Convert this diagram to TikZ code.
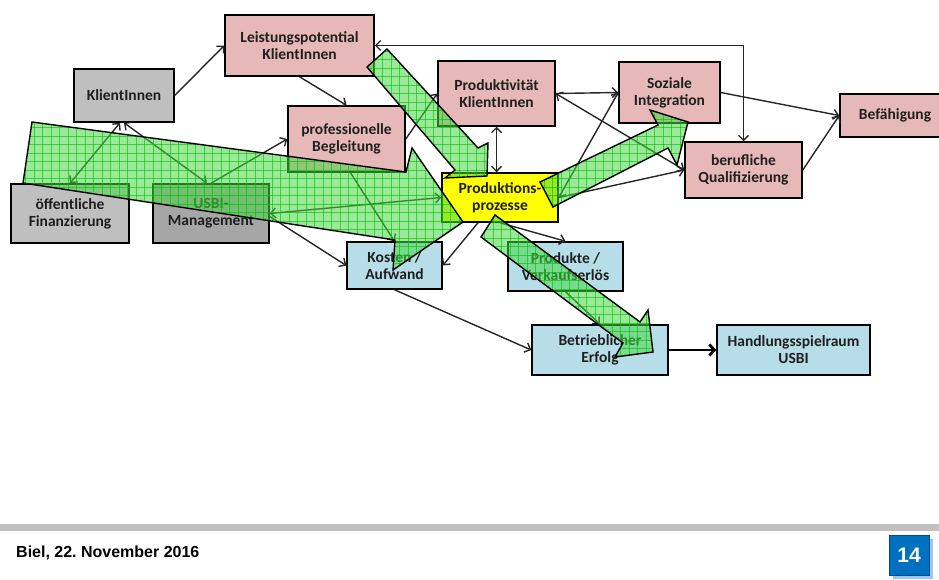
\documentclass[tikz,border=0pt]{standalone}
\usepackage{fontspec}
\setmainfont{Carlito}
\newfontfamily\arialfont{Liberation Sans}
\usetikzlibrary{arrows.meta,calc}
\frenchspacing

\definecolor{pinkbox}{RGB}{230,185,184}
\definecolor{graybox}{RGB}{191,191,191}
\definecolor{darkgraybox}{RGB}{166,166,166}
\definecolor{bluebox}{RGB}{183,222,232}
\definecolor{yellowbox}{RGB}{255,255,0}
\definecolor{arrowgreen}{RGB}{70,215,70}
\definecolor{gridgreen}{RGB}{0,190,0}
\definecolor{footgray}{RGB}{192,192,192}
\definecolor{pageblue}{RGB}{0,112,192}
\definecolor{pageshadow}{RGB}{165,195,240}

\newcommand\greenarrow[1]{%
  \fill[arrowgreen, fill opacity=0.55] #1;
  \begin{scope}
    \clip #1;
    \foreach \gx in {0,8.5,...,939} {\draw[gridgreen, line width=0.45pt, opacity=0.6] (\gx,0) -- (\gx,579);}
    \foreach \gy in {0,8.5,...,579} {\draw[gridgreen, line width=0.45pt, opacity=0.6] (0,\gy) -- (939,\gy);}
  \end{scope}
  \draw[black, line width=1.4pt, line join=miter] #1;
}

\begin{document}
\begin{tikzpicture}[x=1pt,y=-1pt,
  box/.style={draw=black, line width=1.5pt, align=center, inner sep=0pt,
    font=\fontsize{15.5}{17}\selectfont\bfseries, text=black!88},
  conn/.style={line width=1.4pt, draw=black!85, -{Straight Barb[length=5pt,width=10pt]}},
  dconn/.style={line width=1.4pt, draw=black!85, {Straight Barb[length=5pt,width=10pt]}-{Straight Barb[length=5pt,width=10pt]}}
]
\useasboundingbox (0,0) rectangle (939,579);
\clip (0,0) rectangle (939,579);

% boxes
\node[box, fill=pinkbox, minimum width=149, minimum height=61] (LP) at (299.5,45.5) {Leistungspotential\\KlientInnen};
\node[box, fill=graybox, minimum width=100, minimum height=53] (KL) at (124,95.5) {KlientInnen};
\node[box, fill=pinkbox, minimum width=117, minimum height=66] (PB) at (346.5,139) {professionelle\\Begleitung};
\node[box, fill=graybox, minimum width=118, minimum height=59] (OF) at (70,213.5) {öffentliche\\Finanzierung};
\node[box, fill=darkgraybox, minimum width=116, minimum height=59] (UM) at (211,213.5) {USBI-\\Management};
\node[box, fill=bluebox, minimum width=95, minimum height=47] (KA) at (394.5,265.5) {Kosten /\\Aufwand};
\node[box, fill=pinkbox, minimum width=117, minimum height=65] (PK) at (496.5,93.5) {Produktivität\\KlientInnen};
\node[box, fill=pinkbox, minimum width=101, minimum height=61] (SI) at (669.5,92.5) {Soziale\\Integration};
\node[box, fill=pinkbox, minimum width=117, minimum height=56] (BQ) at (743.5,170) {berufliche\\Qualifizierung};
\node[box, fill=pinkbox, minimum width=110, minimum height=43] (BF) at (895,115.5) {Befähigung};
\node[box, fill=yellowbox, minimum width=116, minimum height=49] (PP) at (500,197.5) {Produktions-\\prozesse};
\node[box, fill=bluebox, minimum width=115, minimum height=49] (PV) at (565.5,266.5) {Produkte /\\Verkaufserlös};
\node[box, fill=bluebox, minimum width=136, minimum height=50] (BE) at (600,350) {Betrieblicher\\Erfolg};
\node[box, fill=bluebox, minimum width=153, minimum height=50] (HU) at (793.5,350) {Handlungsspielraum\\USBI};

% connectors
\draw[conn] (KL.east) -- (LP.west);
\draw[conn] (LP.south) -- (PB.north);
\draw[dconn] ([xshift=-4pt]KL.south) -- (OF.north);
\draw[dconn] (KL.south) -- ([xshift=-4pt]UM.north);
\draw[conn] (UM.north) -- (PB.west);
\draw[dconn] (UM.east) -- (PP.west);
\draw[conn] ([yshift=-3pt]UM.east) -- (KA.west);
\draw[conn] ([xshift=4pt]PB.south) -- (KA.north);
\draw[conn] (PB.east) -- (PK.west);
\draw[dconn] (BQ.north) |- (LP.east);
\draw[dconn] (PK.south) -- (PK.south |- PP.north);
\draw[conn] (PK.east) -- (SI.west);
\draw[dconn] (PK.east) -- (BQ.west);
\draw[dconn] (PP.east) -- (SI.west);
\draw[conn] (PP.east) -- (BQ.west);
\draw[conn] (SI.east) -- (BF.west);
\draw[conn] (BQ.east) -- (BF.west);
\draw[conn] ([xshift=-22pt]PP.south) -- (KA.east);
\draw[conn] (PP.south) -- (PV.north);
\draw[conn] (PV.south) -- (BE.north);
\draw[conn] (KA.south) -- (BE.west);
\draw[line width=2.8pt, draw=black, -{Straight Barb[length=5pt,width=11pt]}] (BE.east) -- (HU.west);

% big green arrows
\greenarrow{(32,122) -- (406,172) -- (412,148) -- (463,222) -- (393,270) -- (395,240) -- (23,183) -- cycle}
\greenarrow{(387,49) -- (478,148) -- (488,143) -- (487,176) -- (445,178) -- (455,170) -- (367,67) -- cycle}
\greenarrow{(540,182) -- (658,125) -- (650,110) -- (688,122) -- (677,165) -- (668,148) -- (553,207) -- cycle}
\greenarrow{(495,215) -- (640,322) -- (648,310) -- (653,352) -- (615,357) -- (623,343) -- (481,237) -- cycle}

% footer
\fill[footgray] (0,524) rectangle (939,531);
\node[anchor=west, inner sep=0pt, font=\arialfont\bfseries\fontsize{16}{18}\selectfont] (date) at (16,553) {Biel, 22. November 2016};
\fill[pageshadow] (893,539) rectangle (933,579);
\node[fill=pageblue, draw=pageblue!70!black, line width=0.6pt, minimum width=40, minimum height=40, inner sep=0pt, text=white, font=\arialfont\bfseries\fontsize{21}{23}\selectfont] (page) at (909,555) {14};
\end{tikzpicture}
\end{document}
